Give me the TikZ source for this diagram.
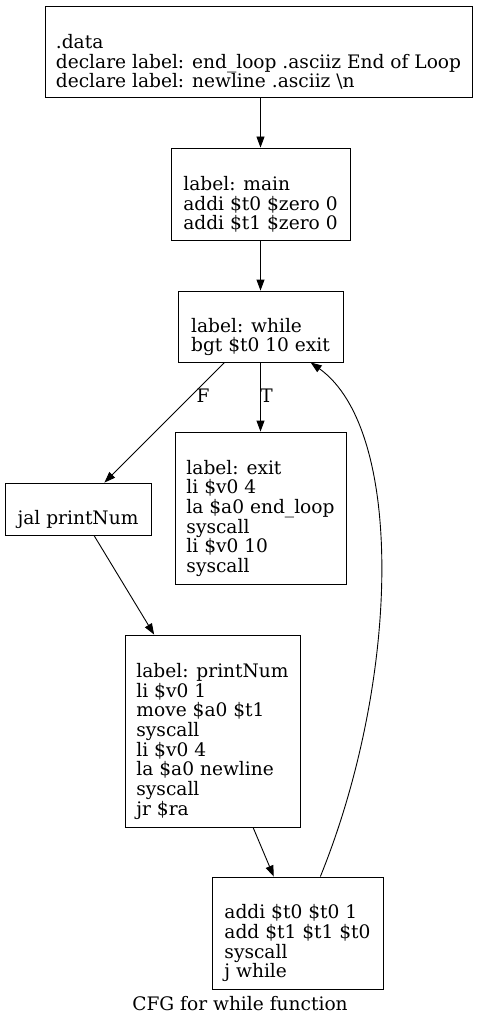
\documentclass[tikz,border=0pt]{standalone}
\usepackage{fontspec}
\setmainfont{DejaVu Serif}
\usetikzlibrary{arrows.meta, positioning}

\begin{document}
\begin{tikzpicture}[
    x=1pt, y=-1pt,
    blk/.style  ={rectangle, draw=black, line width=0.9pt,
                  align=left, inner sep=0pt,
                  font=\fontsize{18.6}{19.7}\selectfont},
    lbl/.style  ={font=\fontsize{18.6}{19.7}\selectfont, inner sep=0pt},
    arrow/.style={-{Triangle[length=11pt, width=8pt]}, line width=0.9pt}
]
\useasboundingbox (0,0) rectangle (481,1027);

% ============================================================
% BLOCS DE BASE
% ============================================================

\node[blk, minimum width=427pt, minimum height=91pt] (data) at (258.5, 51.5)
  {\strut\\.data\\declare label: end\_loop .asciiz End of Loop\\declare label: newline .asciiz \textbackslash n};
\node[blk, minimum width=179pt, minimum height=92pt] (main) at (260.5, 194)
  {\strut\\label: main\\addi \$t0 \$zero 0\\addi \$t1 \$zero 0};
\node[blk, minimum width=165pt, minimum height=71pt] (while) at (260.5, 326.5)
  {\strut\\label: while\\bgt \$t0 10 exit};
\node[blk, minimum width=171pt, minimum height=152pt] (exit) at (260.5, 508)
  {\strut\\label: exit\\li \$v0 4\\la \$a0 end\_loop\\syscall\\li \$v0 10\\syscall};
\node[blk, minimum width=146pt, minimum height=52pt] (jal) at (78, 509)
  {\strut\\jal printNum};
\node[blk, minimum width=175pt, minimum height=192pt] (printnum) at (212.5, 731)
  {\strut\\label: printNum\\li \$v0 1\\move \$a0 \$t1\\syscall\\li \$v0 4\\la \$a0 newline\\syscall\\jr \$ra};
\node[blk, minimum width=171pt, minimum height=112pt] (incr) at (297.5, 933)
  {\strut\\addi \$t0 \$t0 1\\add \$t1 \$t1 \$t0\\syscall\\j while};

% -- etiquettes --
\node[lbl] (lblF) at (203, 396) {F};
\node[lbl] (lblT) at (266.5, 396) {T};
\node[lbl] (title) at (240, 1004) {CFG for while function};

% ============================================================
% FLECHES
% ============================================================

\draw[arrow] (main.north |- data.south) -- (main.north);
\draw[arrow] (main) -- (while);
\draw[arrow] (while) -- (exit);
\draw[arrow] (while) -- (jal);
\draw[arrow] (jal) -- (printnum);
\draw[arrow] (printnum) -- (incr);
\draw[arrow] (incr) .. controls (400, 680) and (405, 430) .. (while);

\end{tikzpicture}
\end{document}
